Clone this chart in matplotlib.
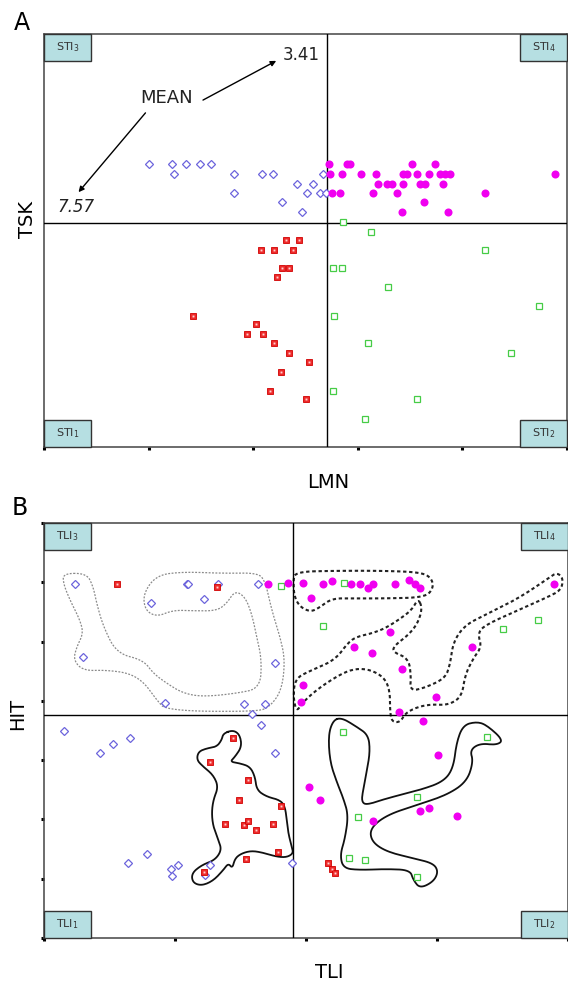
import numpy as np
import matplotlib
matplotlib.use('Agg')
from matplotlib import pyplot as plt
from matplotlib.patches import Rectangle

# ---------------- panel A data (x: LMN, y: TSK) ----------------
a_blue_x = [1.00, 1.22, 1.36, 1.49, 1.60, 1.24, 1.82, 1.82, 2.08, 2.19, 2.42, 2.28, 2.57, 2.51, 2.67, 2.64, 2.47, 2.70]
a_blue_y = [68.5, 68.5, 68.5, 68.5, 68.5, 66.1, 66.1, 61.5, 66.1, 66.1, 63.7, 59.3, 63.7, 61.5, 66.1, 61.5, 56.9, 61.5]

a_mag_x = [2.72, 2.90, 2.93, 3.52, 3.74,
           2.73, 2.85, 3.03, 3.17, 3.43, 3.47, 3.57, 3.68, 3.79, 3.83, 3.88, 4.89,
           3.19, 3.28, 3.33, 3.43, 3.59, 3.64, 3.81,
           2.75, 2.83, 3.15, 3.37, 4.22, 3.63, 3.42, 3.86]
a_mag_y = [68.5, 68.5, 68.5, 68.5, 68.5,
           66.1, 66.1, 66.1, 66.1, 66.1, 66.1, 66.1, 66.1, 66.1, 66.1, 66.1, 66.1,
           63.7, 63.7, 63.7, 63.7, 63.7, 63.7, 63.7,
           61.5, 61.5, 61.5, 61.5, 61.5, 59.3, 56.9, 56.9]

a_red_x = [2.31, 2.44, 2.07, 2.20, 2.38, 2.28, 2.34, 2.23, 1.42, 2.03, 1.94, 2.09, 2.20, 2.34, 2.53, 2.27, 2.16, 2.50]
a_red_y = [50.1, 50.1, 47.7, 47.7, 47.7, 43.3, 43.3, 41.2, 31.7, 29.8, 27.4, 27.4, 25.2, 22.8, 20.6, 18.2, 13.6, 11.6]

a_green_x = [2.86, 3.13, 4.22, 2.76, 2.85, 3.29, 4.73, 2.77, 3.10, 4.46, 2.76, 3.57, 3.07]
a_green_y = [54.5, 52.1, 47.7, 43.3, 43.3, 38.7, 34.1, 31.7, 25.2, 22.8, 13.6, 11.6, 6.8]

a_mean_x = 2.705
a_mean_y = 54.2
a_quadrants = ['STI$_3$', 'STI$_4$', 'STI$_1$', 'STI$_2$']

# ---------------- panel B data (x: TLI, y: HIT) ----------------
b_blue_x = [0.24, 1.09, 1.10, 1.33, 1.63, 0.82, 1.22, 0.30, 1.76, 0.92, 1.53, 1.69, 1.59, 1.66,
            0.15, 0.43, 0.53, 0.66, 1.76, 0.64, 0.79, 0.97, 1.02, 0.98, 1.27, 1.23, 1.89]
b_blue_y = [5.97, 5.97, 5.97, 5.97, 5.97, 5.65, 5.72, 4.74, 4.64, 3.96, 3.95, 3.95, 3.78, 3.59,
            3.49, 3.12, 3.27, 3.37, 3.12, 1.26, 1.42, 1.16, 1.23, 1.05, 1.23, 1.06, 1.26]

b_red_x = [0.56, 1.32, 1.44, 1.27, 1.56, 1.49, 1.81, 1.38, 1.53, 1.56, 1.62, 1.75, 1.54, 1.79, 1.22, 2.17, 2.20, 2.22]
b_red_y = [5.97, 5.92, 3.37, 2.97, 2.66, 2.33, 2.23, 1.92, 1.91, 1.97, 1.82, 1.92, 1.33, 1.45, 1.11, 1.26, 1.16, 1.10]

b_green_x = [1.81, 2.29, 2.13, 3.50, 3.77, 2.28, 3.38, 2.85, 2.40, 2.33, 2.45, 2.85]
b_green_y = [5.94, 5.99, 5.26, 5.21, 5.36, 3.47, 3.39, 2.38, 2.04, 1.35, 1.32, 1.03]

b_mag_x = [1.71, 1.86, 1.98, 2.13, 2.20, 2.34, 2.41, 2.47, 2.51, 2.68, 2.79, 2.83, 2.87, 3.89,
           2.04, 2.64, 2.37, 2.50, 3.27, 2.73, 1.98, 1.96, 2.99, 2.71, 2.89, 3.01,
           2.02, 2.11, 2.51, 2.87, 2.94, 3.15]
b_mag_y = [5.97, 5.99, 5.99, 5.97, 6.02, 5.97, 5.97, 5.90, 5.97, 5.97, 6.04, 5.97, 5.90, 5.97,
           5.73, 5.16, 4.91, 4.81, 4.91, 4.54, 4.27, 3.98, 4.06, 3.81, 3.66, 3.09,
           2.55, 2.33, 1.97, 2.14, 2.19, 2.06]

b_mean_x = 1.90
b_mean_y = 3.76
b_quadrants = ['TLI$_3$', 'TLI$_4$', 'TLI$_1$', 'TLI$_2$']

# cluster outlines in panel B (data units)
grey_outline = [(0.147, 6.150), (0.326, 6.150), (0.376, 5.924), (0.402, 5.644), (0.453, 5.250), (0.555, 4.801),
                (0.758, 4.688), (0.834, 4.464), (0.937, 4.295), (1.063, 4.127), (1.216, 4.069), (1.471, 4.127),
                (1.649, 4.211), (1.662, 4.688), (1.624, 5.081), (1.585, 5.476), (1.534, 5.756), (1.458, 5.857),
                (1.395, 5.644), (1.318, 5.519), (1.140, 5.519), (0.987, 5.531), (0.860, 5.418), (0.771, 5.531),
                (0.758, 5.813), (0.860, 6.121), (1.063, 6.177), (1.369, 6.150), (1.624, 6.160), (1.687, 6.037),
                (1.738, 5.531), (1.802, 5.081), (1.840, 4.688), (1.815, 4.182), (1.725, 3.901), (1.624, 3.816),
                (0.937, 3.833), (0.860, 4.014), (0.771, 4.295), (0.656, 4.464), (0.479, 4.519), (0.300, 4.508),
                (0.224, 4.688), (0.250, 4.912), (0.300, 5.138), (0.275, 5.363), (0.198, 5.700), (0.147, 5.981)]

dash_top_outline = [(1.916, 6.177), (2.221, 6.194), (2.603, 6.194), (2.883, 6.167), (2.960, 6.066), (2.972, 5.897),
                    (2.908, 5.745), (2.603, 5.728), (2.349, 5.728), (2.196, 5.728), (2.094, 5.560), (2.031, 5.503),
                    (1.954, 5.587), (1.911, 5.756), (1.903, 6.009)]

dash_tree_outline = [(2.857, 5.728), (2.888, 5.560), (2.853, 5.307), (2.781, 5.110), (2.679, 4.941), (2.659, 4.828),
                     (2.781, 4.717), (2.802, 4.435), (2.794, 4.165), (2.908, 4.221), (3.061, 4.379), (3.099, 4.604),
                     (3.124, 4.997), (3.214, 5.278), (3.366, 5.447), (3.621, 5.728), (3.850, 6.066), (3.914, 6.167),
                     (3.964, 6.066), (3.947, 5.868), (3.850, 5.756), (3.621, 5.531), (3.366, 5.278), (3.311, 5.138),
                     (3.341, 4.912), (3.277, 4.717), (3.214, 4.435), (3.189, 4.069), (3.086, 3.929), (2.960, 3.941),
                     (2.857, 3.901), (2.761, 3.799), (2.718, 3.637), (2.654, 3.648), (2.641, 3.845), (2.641, 4.153),
                     (2.603, 4.379), (2.502, 4.519), (2.387, 4.548), (2.273, 4.464), (2.094, 4.211), (1.967, 3.958),
                     (1.929, 3.816), (1.903, 4.042), (1.916, 4.379), (2.044, 4.519), (2.221, 4.688), (2.323, 4.987),
                     (2.387, 5.081), (2.502, 5.138), (2.603, 5.223), (2.705, 5.363), (2.807, 5.531)]

red_outline = [(1.369, 3.452), (1.445, 3.508), (1.496, 3.423), (1.509, 3.226), (1.458, 3.057), (1.420, 2.973),
               (1.496, 2.946), (1.573, 2.889), (1.611, 2.720), (1.624, 2.496), (1.700, 2.383), (1.802, 2.327),
               (1.840, 2.214), (1.853, 1.990), (1.865, 1.766), (1.891, 1.540), (1.903, 1.428), (1.853, 1.361),
               (1.776, 1.371), (1.674, 1.438), (1.585, 1.472), (1.509, 1.428), (1.458, 1.344), (1.438, 1.175),
               (1.407, 1.260), (1.369, 1.147), (1.292, 0.966), (1.204, 0.882), (1.135, 0.933), (1.127, 1.091),
               (1.204, 1.231), (1.305, 1.315), (1.356, 1.484), (1.331, 1.653), (1.292, 1.877), (1.280, 2.103),
               (1.292, 2.327), (1.331, 2.551), (1.292, 2.749), (1.216, 2.889), (1.166, 3.002), (1.178, 3.142),
               (1.242, 3.199), (1.318, 3.226), (1.356, 3.339)]

green_outline = [(2.208, 3.676), (2.273, 3.715), (2.387, 3.563), (2.476, 3.423), (2.489, 3.142), (2.463, 2.804),
                 (2.433, 2.467), (2.425, 2.298), (2.463, 2.243), (2.616, 2.356), (2.870, 2.496), (3.048, 2.636),
                 (3.124, 2.862), (3.150, 3.310), (3.201, 3.592), (3.303, 3.648), (3.379, 3.592), (3.506, 3.339),
                 (3.456, 3.255), (3.328, 3.283), (3.252, 3.170), (3.277, 2.973), (3.227, 2.636), (3.074, 2.411),
                 (2.845, 2.243), (2.616, 2.074), (2.489, 1.850), (2.501, 1.624), (2.616, 1.455), (2.819, 1.344),
                 (2.972, 1.260), (3.010, 1.118), (2.972, 0.949), (2.870, 0.838), (2.819, 0.978), (2.794, 1.147),
                 (2.616, 1.164), (2.412, 1.147), (2.285, 1.175), (2.260, 1.400), (2.298, 1.681), (2.323, 2.074),
                 (2.285, 2.356), (2.234, 2.636), (2.183, 2.973), (2.170, 3.423)]

BLUE = '#6c64dc'
RED = '#ee2a2a'
GREEN = '#46cc46'
MAG = '#f000f0'
BOXC = '#b6dfe2'


def smooth(pts, n=3):
    # chaikin corner cutting on a closed outline
    p = np.array(pts, dtype=float)
    for _ in range(n):
        q = np.roll(p, -1, axis=0)
        new = np.empty((2 * len(p), 2))
        new[0::2] = 0.75 * p + 0.25 * q
        new[1::2] = 0.25 * p + 0.75 * q
        p = new
    p = np.vstack([p, p[:1]])
    return p[:, 0], p[:, 1]


def style_axes(ax, labels, xt, yt):
    for s in ax.spines.values():
        s.set_color('#444444')
        s.set_linewidth(1.1)
    ax.set_xticks(xt)
    ax.set_yticks(yt)
    ax.tick_params(direction='out', length=2.2, width=2.2, color='black',
                   labelbottom=False, labelleft=False)
    w = 47.0 / 523
    h = 27.0 / 414
    spots = [(0, 1 - h), (1 - w, 1 - h), (0, 0), (1 - w, 0)]
    for (bx, by), lab in zip(spots, labels):
        ax.add_patch(Rectangle((bx, by), w, h, transform=ax.transAxes, facecolor=BOXC,
                               edgecolor='#333333', lw=1.0, zorder=5, clip_on=False))
        ax.text(bx + w / 2, by + h / 2, lab, transform=ax.transAxes, ha='center', va='center',
                fontsize=8, color='#333333', zorder=6)


def points(ax, x, y, kind):
    if kind == 'blue':
        ax.plot(x, y, 'D', ms=3.9, mfc='white', mec=BLUE, mew=0.9, ls='none', zorder=4)
    elif kind == 'red':
        ax.plot(x, y, 's', ms=4.3, mfc=RED, mec='#d00000', mew=0.6, ls='none', zorder=4)
        ax.plot(x, y, 's', ms=1.4, mfc='#ffd0d0', mec='none', ls='none', zorder=4)
    elif kind == 'green':
        ax.plot(x, y, 's', ms=4.4, mfc='white', mec=GREEN, mew=0.9, ls='none', zorder=4)
    else:
        ax.plot(x, y, 'o', ms=5.8, mfc=MAG, mec=MAG, mew=0, ls='none', zorder=4)


fig = plt.figure(figsize=(5.68, 9.83), dpi=100)

# ---------------- panel A ----------------
axA = fig.add_axes([44 / 568, 1 - 447 / 983, 523 / 568, 413 / 983])
axA.set_xlim(0, 5)
axA.set_ylim(0, 100)
style_axes(axA, a_quadrants, range(0, 6), [])
axA.axvline(a_mean_x, color='black', lw=1.0, zorder=3)
axA.axhline(a_mean_y, color='black', lw=1.0, zorder=3)
points(axA, a_blue_x, a_blue_y, 'blue')
points(axA, a_red_x, a_red_y, 'red')
points(axA, a_green_x, a_green_y, 'green')
points(axA, a_mag_x, a_mag_y, 'mag')

axA.text(1.17, 84.4, 'MEAN', ha='center', va='center', fontsize=13, color='#222222')
axA.annotate('', xy=(2.22, 93.5), xytext=(1.52, 84.0),
             arrowprops=dict(arrowstyle='-|>', color='black', lw=1.0, mutation_scale=8, shrinkA=0, shrinkB=0))
axA.annotate('', xy=(0.33, 61.7), xytext=(0.97, 80.9),
             arrowprops=dict(arrowstyle='-|>', color='black', lw=1.0, mutation_scale=8, shrinkA=0, shrinkB=0))
axA.text(2.28, 94.9, '3.41', ha='left', va='center', fontsize=12, color='#222222')
axA.text(0.13, 58.1, '7.57', ha='left', va='center', fontsize=12, color='#222222', style='italic')

axA.set_xlabel('LMN', fontsize=14, va='center')
axA.xaxis.set_label_coords(0.543, -0.085)
axA.set_ylabel('TSK', fontsize=14, va='center')
axA.yaxis.set_label_coords(-0.0325, 0.55)
fig.text(22 / 568, 1 - 23 / 983, 'A', fontsize=17, ha='center', va='center')

# ---------------- panel B ----------------
axB = fig.add_axes([44 / 568, 1 - 938 / 983, 524 / 568, 415 / 983])
axB.set_xlim(0, 4)
axB.set_ylim(0, 7)
style_axes(axB, b_quadrants, range(0, 5), range(0, 8))
axB.axvline(b_mean_x, color='black', lw=1.0, zorder=3)
axB.axhline(b_mean_y, color='black', lw=1.0, zorder=3)

gx, gy = smooth(grey_outline)
axB.plot(gx, gy, color='#8a8a8a', lw=0.9, ls=(0, (1.5, 1.2)), zorder=2)
for outline in (dash_top_outline, dash_tree_outline):
    ox, oy = smooth(outline)
    axB.plot(ox, oy, color='#222222', lw=1.5, ls=(0, (1.6, 1.3)), zorder=2)
for outline in (red_outline, green_outline):
    ox, oy = smooth(outline)
    axB.plot(ox, oy, color='#111111', lw=1.3, zorder=2)

points(axB, b_blue_x, b_blue_y, 'blue')
points(axB, b_red_x, b_red_y, 'red')
points(axB, b_green_x, b_green_y, 'green')
points(axB, b_mag_x, b_mag_y, 'mag')

axB.set_xlabel('TLI', fontsize=14, va='center')
axB.xaxis.set_label_coords(0.544, -0.082)
axB.set_ylabel('HIT', fontsize=14, va='center')
axB.yaxis.set_label_coords(-0.0496, 0.54)
fig.text(20 / 568, 1 - 508 / 983, 'B', fontsize=17, ha='center', va='center')

fig.savefig('out.png', dpi=100)
